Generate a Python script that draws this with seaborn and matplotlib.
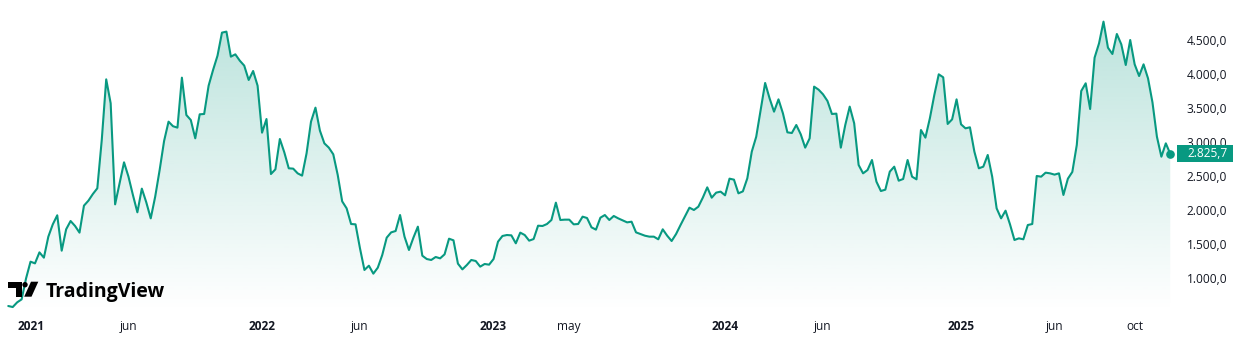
import numpy as np
import pandas as pd
import matplotlib
matplotlib.use("Agg")
import matplotlib.pyplot as plt
import matplotlib.dates as mdates
import matplotlib.ticker as mticker
import matplotlib.patches as mpatches
import matplotlib.transforms as mtrans
from matplotlib.colors import to_rgb
import seaborn as sns

# ---------------- data (weekly closes) ----------------
start_week = "2020-11-30"
prices = [
    588, 573, 642, 686, 995, 1240, 1215, 1377, 1299, 1608,
    1789, 1922, 1402, 1716, 1838, 1765, 1667, 2064, 2137, 2235,
    2319, 3030, 3921, 3569, 2083, 2392, 2701, 2490, 2220, 1966,
    2314, 2113, 1877, 2196, 2588, 3015, 3299, 3232, 3211, 3946,
    3397, 3323, 3054, 3407, 3412, 3828, 4059, 4270, 4608, 4623,
    4255, 4289, 4196, 4123, 3912, 4044, 3828, 3137, 3338, 2529,
    2598, 3044, 2848, 2613, 2608, 2539, 2505, 2833, 3299, 3505,
    3167, 2980, 2917, 2819, 2515, 2127, 2024, 1794, 1789, 1436,
    1118, 1181, 1064, 1152, 1338, 1593, 1671, 1691, 1926, 1608,
    1412, 1593, 1755, 1328, 1279, 1265, 1309, 1289, 1348, 1578,
    1554, 1211, 1127, 1191, 1265, 1250, 1167, 1206, 1196, 1279,
    1534, 1618, 1632, 1627, 1510, 1667, 1632, 1549, 1573, 1769,
    1765, 1794, 1853, 2108, 1853, 1858, 1858, 1789, 1794, 1902,
    1882, 1745, 1711, 1887, 1926, 1853, 1912, 1877, 1848, 1818,
    1828, 1671, 1647, 1622, 1608, 1608, 1569, 1716, 1622, 1544,
    1647, 1779, 1905, 2034, 2000, 2049, 2181, 2333, 2181, 2255,
    2270, 2216, 2461, 2446, 2245, 2274, 2466, 2858, 3078, 3471,
    3868, 3642, 3446, 3627, 3421, 3142, 3132, 3250, 3113, 2917,
    3054, 3814, 3770, 3701, 3603, 3412, 3417, 2917, 3250, 3520,
    3275, 2662, 2539, 2588, 2735, 2417, 2279, 2299, 2564, 2637,
    2431, 2456, 2735, 2490, 2451, 3176, 3064, 3348, 3691, 3995,
    3951, 3265, 3333, 3627, 3260, 3201, 3216, 2858, 2613, 2637,
    2809, 2490, 2024, 1877, 1990, 1789, 1559, 1583, 1569, 1779,
    1794, 2500, 2490, 2549, 2539, 2520, 2539, 2221, 2460, 2560,
    2956, 3750, 3863, 3485, 4240, 4451, 4770, 4387, 4294, 4588,
    4436, 4132, 4500, 4142, 3970, 4142, 3936, 3583, 3078, 2784,
    2980, 2825.7,
]
tick_dates = ["2021-01-04", "2021-06-07", "2022-01-03", "2022-06-06",
              "2023-01-02", "2023-05-01", "2024-01-01", "2024-06-03",
              "2025-01-06", "2025-06-02", "2025-10-06"]
tick_labels = ["2021", "jun", "2022", "jun", "2023", "may", "2024", "jun",
               "2025", "jun", "oct"]
year_labels = {"2021", "2022", "2023", "2024", "2025"}
y_ticks = [1000, 1500, 2000, 2500, 3000, 3500, 4000, 4500]
last_label = "2.825,7"
watermark = "TradingView"

dates = pd.date_range(start_week, periods=len(prices), freq="7D")
df = pd.DataFrame({"date": dates, "price": prices})

# ---------------- style ----------------
sns.set_theme(style="white")
plt.rcParams["font.family"] = ["Open Sans", "DejaVu Sans"]
GREEN = "#089981"
TXT = "#131722"

W, H = 1250, 363
fig = plt.figure(figsize=(W / 100, H / 100), dpi=100)
fig.patch.set_facecolor("white")
pane_bottom_px = 312
pane_right_px = 1176
ax = fig.add_axes([0, (H - pane_bottom_px) / H, pane_right_px / W, pane_bottom_px / H])
ax.set_facecolor("white")

ymin, ymax = 500, 5088
x0 = dates[0] - pd.Timedelta(days=13)
x1 = dates[-1] + pd.Timedelta(days=9)

sns.lineplot(data=df, x="date", y="price", color=GREEN, linewidth=1.5,
             ax=ax, zorder=3)
for ln in ax.lines:
    ln.set_solid_joinstyle("round")
    ln.set_solid_capstyle("round")

# gradient area fill
poly = ax.fill_between(df["date"], df["price"], ymin, facecolor="none",
                       edgecolor="none")
r, g, b = to_rgb(GREEN)
n = 256
alphas = np.linspace(0.0, 0.27, n)
img = np.zeros((n, 1, 4))
img[:, 0, 0] = r
img[:, 0, 1] = g
img[:, 0, 2] = b
img[:, 0, 3] = alphas
top_val = max(prices)
im = ax.imshow(img, extent=[mdates.date2num(x0), mdates.date2num(x1), ymin, top_val],
               origin="lower", aspect="auto", zorder=2, interpolation="bilinear")
im.set_clip_path(poly.get_paths()[0], transform=ax.transData)

# last point marker
ax.plot([dates[-1]], [prices[-1]], marker="o", markersize=5.2, color=GREEN,
        zorder=4, clip_on=False)

ax.set_xlim(x0, x1)
ax.set_ylim(ymin, ymax)

# x ticks
ax.set_xticks(pd.to_datetime(tick_dates))
ax.set_xticklabels(tick_labels)
for lbl in ax.get_xticklabels():
    lbl.set_fontsize(8.6)
    lbl.set_color(TXT)
    if lbl.get_text() in year_labels:
        lbl.set_fontweight("bold")
ax.tick_params(axis="x", length=0, pad=5.5)

# y ticks on the right
ax.yaxis.tick_right()
ax.set_yticks(y_ticks)
ax.yaxis.set_major_formatter(mticker.FuncFormatter(
    lambda v, p: f"{v:,.1f}".replace(",", "X").replace(".", ",").replace("X", ".")))
ax.tick_params(axis="y", length=0, pad=7.8, labelsize=8.6, labelcolor=TXT)
ax.set_xlabel("")
ax.set_ylabel("")
ax.grid(False)
for s in ax.spines.values():
    s.set_visible(False)

# last price label on the scale
bt = mtrans.blended_transform_factory(fig.transFigure, ax.transData)
box_h = 17.3 * (ymax - ymin) / pane_bottom_px
fig.patches.append(mpatches.Rectangle((1177 / W, prices[-1] - box_h / 2), 56 / W, box_h,
                                      transform=bt, facecolor=GREEN, edgecolor="none",
                                      zorder=5))
fig.text(1187 / W, prices[-1], last_label, transform=bt, color="white",
         fontsize=8.6, va="center", ha="left", zorder=6)

# TradingView watermark
def fx(x):
    return x / W

def fy(y):
    return 1 - y / H

logo_kw = dict(transform=fig.transFigure, facecolor="#000000", edgecolor="none", zorder=7)
fig.patches.append(mpatches.Polygon([(fx(8.3), fy(281.7)), (fx(21.7), fy(281.7)),
                                     (fx(21.7), fy(296.7)), (fx(15.5), fy(296.7)),
                                     (fx(15.5), fy(287.5)), (fx(8.3), fy(287.5))], **logo_kw))
fig.patches.append(mpatches.Ellipse((fx(25.0), fy(284.7)), 5.4 / W, 5.4 / H, **logo_kw))
fig.patches.append(mpatches.Polygon([(fx(31.0), fy(281.7)), (fx(38.3), fy(281.7)),
                                     (fx(31.5), fy(296.7)), (fx(24.2), fy(296.7))], **logo_kw))
fig.text(fx(46.0), fy(296.7), watermark, fontsize=14, fontweight="bold",
         family=["Open Sans", "DejaVu Sans"], color="#000000", va="baseline", ha="left",
         zorder=8)

fig.savefig("out.png", dpi=100, facecolor="white")
